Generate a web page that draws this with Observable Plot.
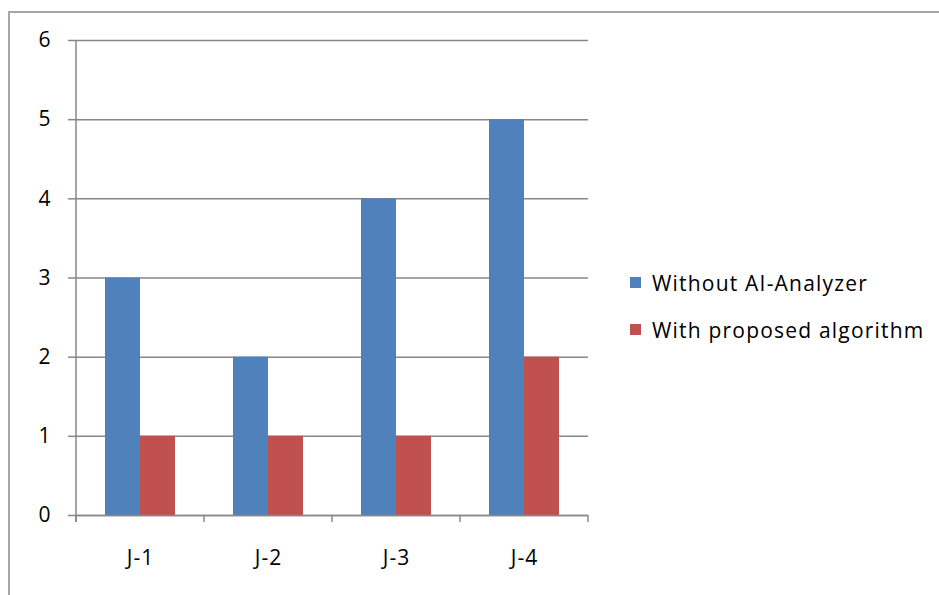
<!DOCTYPE html>
<html><head><meta charset="utf-8">
<script src="https://cdn.jsdelivr.net/npm/d3@7"></script>
<script src="https://cdn.jsdelivr.net/npm/@observablehq/plot@0.6"></script>
<style>
body{margin:0;background:#fff;font-family:"Open Sans",sans-serif;}
#wrap{position:relative;width:939px;height:595px;overflow:hidden;background:#fff}
#border{position:absolute;left:8px;top:11px;width:1000px;height:700px;border:2px solid #a6a6a6;box-sizing:border-box}
#chart{position:absolute;left:0;top:0}
#chart svg text{letter-spacing:1px}
#legend{position:absolute;left:630px;top:259px;font-size:21px;letter-spacing:1.2px;color:#000}
.item{display:flex;align-items:center;height:47px;white-space:nowrap}
.sw{width:11px;height:11px;margin-right:11px;flex:none}
</style></head>
<body>
<div id="wrap"><div id="border"></div><div id="chart"></div><div id="legend"></div></div>
<script>
const categories = ["J-1", "J-2", "J-3", "J-4"];
const series = ["Without AI-Analyzer", "With proposed algorithm"];
const withoutAnalyzer = [3, 2, 4, 5];
const withAlgorithm = [1, 1, 1, 2];
const yTicks = [0, 1, 2, 3, 4, 5, 6];
const colors = ["#4F81BD", "#C0504D"];

const data = [];
categories.forEach((c, i) => {
  data.push({cat: c, series: series[0], value: withoutAnalyzer[i]});
  data.push({cat: c, series: series[1], value: withAlgorithm[i]});
});

const grid = "#878787";
const chart = Plot.plot({
  width: 939, height: 595,
  marginLeft: 74, marginRight: 350, marginTop: 40, marginBottom: 80,
  style: {fontFamily: "'Open Sans', sans-serif", fontSize: "21px", color: "#000", background: "transparent"},
  fx: {domain: categories, padding: 0, label: null},
  x: {domain: series, paddingInner: 0, paddingOuter: 0.79, axis: null},
  y: {domain: [0, 6], label: null},
  color: {domain: series, range: colors},
  marks: [
    Plot.gridY(yTicks, {stroke: grid, strokeOpacity: 1, strokeWidth: 1.5}),
    Plot.barY(data, {fx: "cat", x: "series", y: "value", fill: "series"}),
    Plot.ruleY([0], {stroke: grid, strokeWidth: 1.5}),
    Plot.axisY(yTicks, {tickSize: 8, tickPadding: 17, tickFormat: d => d, fontSize: 21, label: null}),
    Plot.axisFx({anchor: "bottom", tickSize: 0, tickPadding: 35, fontSize: 21, label: null})
  ]
});
d3.select(chart).selectAll('g[aria-label="y-axis tick"] path').attr("stroke", grid).attr("stroke-width", 1.5);
const y = chart.scale("y"), fx = chart.scale("fx");
const svg = d3.select(chart);
const y0 = y.apply(0), y6 = y.apply(6);
const x0 = fx.apply(categories[0]);
svg.append("line").attr("x1", x0).attr("x2", x0).attr("y1", y6).attr("y2", y0 + 7)
  .attr("stroke", grid).attr("stroke-width", 1.5);
const bounds = categories.map(c => fx.apply(c)).concat([fx.apply(categories[categories.length - 1]) + fx.bandwidth]);
bounds.forEach(b => {
  svg.append("line").attr("x1", b).attr("x2", b).attr("y1", y0).attr("y2", y0 + 7)
    .attr("stroke", grid).attr("stroke-width", 1.5);
});
document.getElementById("chart").append(chart);

const legend = d3.select("#legend");
series.forEach((s, i) => {
  const it = legend.append("div").attr("class", "item");
  it.append("div").attr("class", "sw").style("background", colors[i]);
  it.append("span").text(s);
});
</script>
</body></html>
